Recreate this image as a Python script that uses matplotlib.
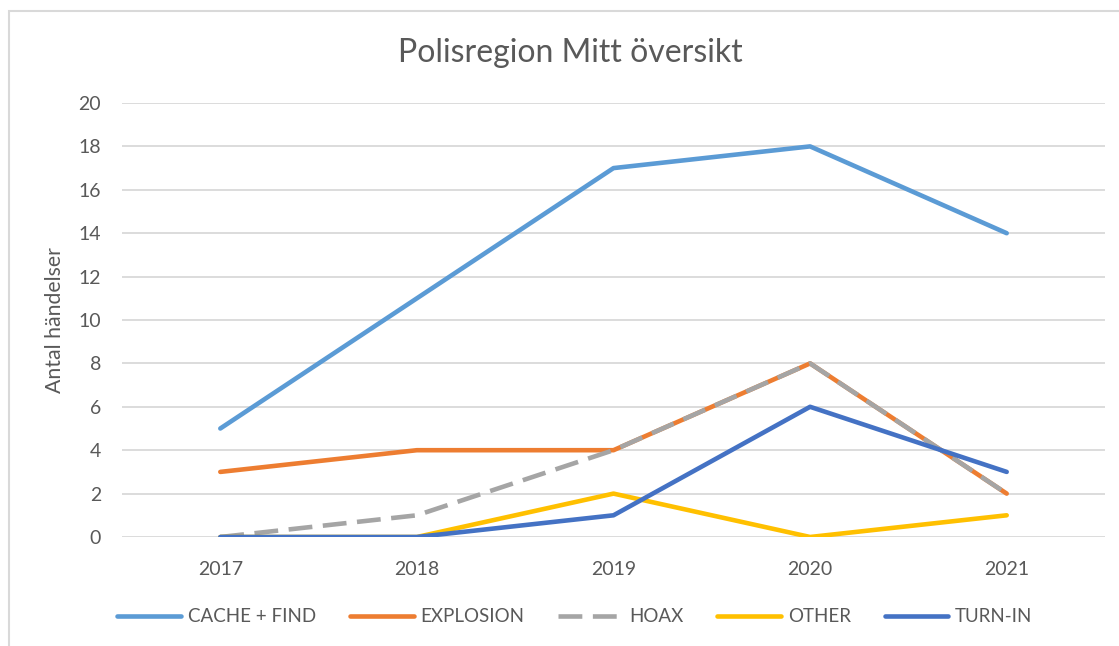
import matplotlib
matplotlib.use("Agg")
import matplotlib.pyplot as plt
from matplotlib.patches import Rectangle

# --- data ---
years = ["2017", "2018", "2019", "2020", "2021"]
cache_find = [5, 11, 17, 18, 14]
explosion = [3, 4, 4, 8, 2]
hoax = [0, 1, 4, 8, 2]
other = [0, 0, 2, 0, 1]
turn_in = [0, 0, 1, 6, 3]
yticks = [0, 2, 4, 6, 8, 10, 12, 14, 16, 18, 20]

series = [
    ("CACHE + FIND", cache_find, "#5B9BD5", "-"),
    ("EXPLOSION", explosion, "#ED7D31", "-"),
    ("HOAX", hoax, "#A5A5A5", "--"),
    ("OTHER", other, "#FFC000", "-"),
    ("TURN-IN", turn_in, "#4472C4", "-"),
]

plt.rcParams["font.family"] = ["Lato", "DejaVu Sans"]
txt = "#595959"

fig = plt.figure(figsize=(11.19, 6.46), dpi=100)
# 外枠（右・下は画像の外へ）
fig.patches.append(Rectangle((9 / 1119, -0.1), 1.2, 1 - 11 / 646 + 0.1, transform=fig.transFigure,
                             fill=False, edgecolor="#d9d9d9", linewidth=1.5))
ax = fig.add_axes([122 / 1119, 1 - 537 / 646, (1105 - 122) / 1119, (537 - 103) / 646])

x = list(range(len(years)))
for name, vals, col, ls in series:
    line, = ax.plot(x, vals, color=col, linewidth=3.3, label=name,
                    solid_capstyle="round", dash_capstyle="butt")
    if ls == "--":
        line.set_dashes((5.2, 2.3))

ax.set_xlim(-0.5, len(years) - 0.5)
ax.set_ylim(0, 20)
ax.set_yticks(yticks)
ax.set_xticks(x)
ax.set_xticklabels(years)
ax.tick_params(length=0, labelsize=14, colors=txt)
ax.tick_params(axis="y", pad=15)
ax.tick_params(axis="x", pad=17)
ax.grid(axis="y", color="#d9d9d9", linewidth=1.3)
ax.set_axisbelow(True)
for s in ax.spines.values():
    s.set_visible(False)

ax.set_ylabel("Antal händelser", fontsize=15.3, color=txt, labelpad=10)
fig.text(570 / 1119, 1 - 53 / 646, "Polisregion Mitt översikt", ha="center", va="center",
         fontsize=23, color=txt)

fig.legend(loc="center", bbox_to_anchor=(575 / 1119, 1 - 617 / 646), ncol=5, frameon=False,
           fontsize=13.5, labelcolor=txt, handlelength=3.4, handletextpad=0.37, columnspacing=1.8)

fig.savefig("out.png", dpi=100)
